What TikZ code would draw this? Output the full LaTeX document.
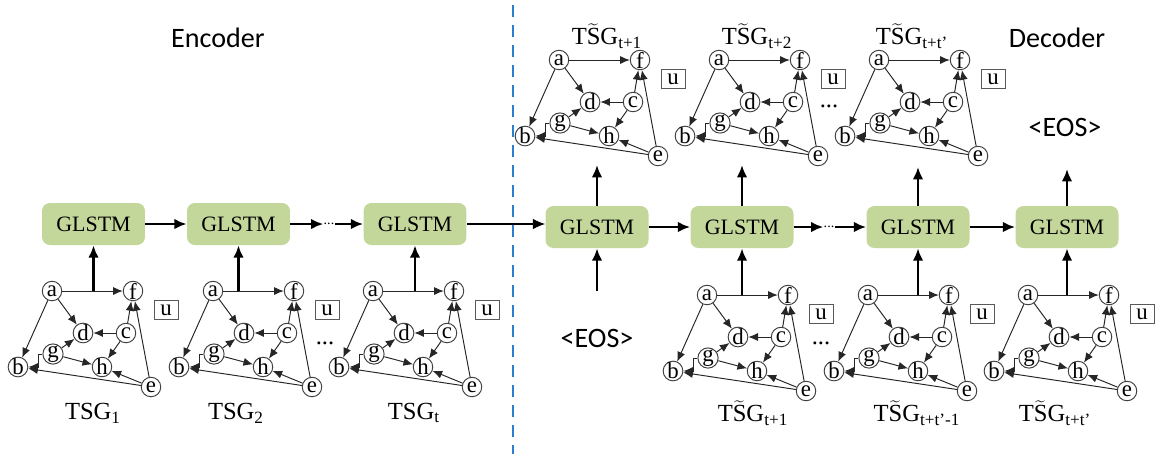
\documentclass[tikz,border=0pt]{standalone}
\usepackage{fontspec}
\setmainfont{Liberation Serif}
\newfontfamily\calfont{Carlito}
\usetikzlibrary{calc,arrows.meta,positioning}
\definecolor{cellgreen}{HTML}{C4D79B}
\definecolor{splitblue}{HTML}{2A7FCF}
\tikzset{
  vtx/.style={circle, draw=black!75, fill=white, line width=0.55pt, inner sep=0pt, minimum size=0.39cm, font=\fontsize{13}{13}\selectfont},
  ubox/.style={draw=black!65, line width=0.55pt, minimum width=0.48cm, minimum height=0.38cm, inner sep=0pt, font=\fontsize{13}{13}\selectfont},
  edge/.style={-{Latex[length=5.5pt,width=4.6pt]}, draw=black!85, line width=0.55pt},
  cell/.style={rounded corners=4.5pt, fill=cellgreen, minimum width=2.06cm, minimum height=0.84cm, font=\fontsize{12.5}{14}\selectfont},
  flow/.style={-{Latex[length=7pt,width=6pt]}, line width=1.5pt},
  thinflow/.style={-{Latex[length=7pt,width=6pt]}, line width=0.6pt},
  lab/.style={font=\fontsize{14}{16}\selectfont},
  head/.style={font=\calfont\fontsize{16}{18}\selectfont},
  gdots/.style={font=\fontsize{14}{14}\selectfont, inner sep=0pt},
  cdots/.style={font=\fontsize{8}{8}\selectfont, inner sep=0pt},
  split/.style={draw=splitblue, line width=1.1pt, dash pattern=on 0.24cm off 0.16cm}
}
% one temporal snapshot graph, #1 = prefix, (#2,#3) = node a
\newcommand{\tsgraph}[3]{%
  \begin{scope}[shift={(#2,#3)}]
    \node[vtx] (#1a) at (0,0) {a};
    \node[vtx] (#1f) at (81,0) {f};
    \node[vtx] (#1d) at (31,42) {d};
    \node[vtx] (#1c) at (74,42) {c};
    \node[vtx] (#1g) at (1,63) {g};
    \node[vtx] (#1b) at (-34,76) {b};
    \node[vtx] (#1h) at (50,76) {h};
    \node[vtx] (#1e) at (99,96) {e};
    \node[ubox] (#1u) at (114,19) {u};
  \end{scope}
  \draw[edge] (#1a) -- (#1f);
  \draw[edge] (#1a) -- (#1d);
  \draw[edge] (#1a) -- (#1b);
  \draw[edge] (#1c) -- (#1d);
  \draw[edge] (#1c) -- (#1f);
  \draw[edge] (#1c) -- (#1h);
  \draw[edge] (#1g) -- (#1d);
  \draw[edge] (#1g) -- (#1h);
  \draw[edge] (#1g.west) -- ++(-4,0) |- (#1b.east);
  \draw[edge] (#1e) -- (#1b);
  \draw[edge] (#1e) -- (#1h);
  \draw[edge] (#1e) -- (#1f);
}

\begin{document}
\begin{tikzpicture}[x=0.02cm, y=-0.02cm]
  \useasboundingbox (0,0) rectangle (1155,454);

  % encoder / decoder split
  \coordinate (splittop) at (513,5);
  \coordinate (splitbot) at (513,454);
  \draw[split] (splittop) -- (splitbot);

  \node[head] (enchead) at (218,38) {Encoder};
  \node[head] (dechead) at (1057,38) {Decoder};

  % GLSTM cells
  \node[cell] (enc1) at (93.5,224) {GLSTM};
  \node[cell] (enc2) at (238.5,224) {GLSTM};
  \node[cell] (enc3) at (415,224) {GLSTM};
  \node[cell] (dec1) at (597,227) {GLSTM};
  \node[cell] (dec2) at (742,227) {GLSTM};
  \node[cell] (dec3) at (918,227) {GLSTM};
  \node[cell] (dec4) at (1067,227) {GLSTM};

  \node[cdots] (cd1) at (329,224) {...};
  \node[cdots] (cd2) at (829,227) {...};

  \draw[flow] (enc1) -- (enc2);
  \draw[flow] (enc2) -- (cd1.west);
  \draw[flow] (cd1.east) -- (enc3);
  \draw[thinflow] (enc3.east) -- (enc3.east -| dec1.west);
  \draw[flow] (dec1) -- (dec2);
  \draw[flow] (dec2) -- (cd2.west);
  \draw[flow] (cd2.east) -- (dec3);
  \draw[flow] (dec3) -- (dec4);

  % input graphs
  \tsgraph{s1-}{52}{291}
  \tsgraph{s2-}{213}{291}
  \tsgraph{s3-}{373}{291}
  \tsgraph{i2-}{707}{295}
  \tsgraph{i3-}{868}{295}
  \tsgraph{i4-}{1028}{295}
  \node[gdots] (gd1) at (325,343) {...};
  \node[gdots] (gd2) at (821,343) {...};

  \node[lab] (l1) at (93,413) {TSG\textsubscript{1}};
  \node[lab] (l2) at (236,413) {TSG\textsubscript{2}};
  \node[lab] (l3) at (414,413) {TSG\textsubscript{t}};
  \node[lab] (l4) at (753,413) {T$\widetilde{\hbox{S}}$G\textsubscript{t+1}};
  \node[lab] (l5) at (917,413) {T$\widetilde{\hbox{S}}$G\textsubscript{t+t\textquoteright-1}};
  \node[lab] (l6) at (1055,413) {T$\widetilde{\hbox{S}}$G\textsubscript{t+t\textquoteright}};

  \node[head] (eosin) at (597,338) {<EOS>};
  \coordinate (eosup) at (597,291);

  \draw[flow] (s1-a -| enc1) -- (enc1);
  \draw[flow] (s2-a -| enc2) -- (enc2);
  \draw[flow] (s3-a -| enc3) -- (enc3);
  \draw[flow] (eosup) -- (dec1);
  \draw[flow] (i2-a -| dec2) -- (dec2);
  \draw[flow] (i3-a -| dec3) -- (dec3);
  \draw[flow] (i4-a -| dec4) -- (dec4);

  % predicted graphs
  \tsgraph{o1-}{559}{60}
  \tsgraph{o2-}{719}{60}
  \tsgraph{o3-}{879}{60}
  \node[gdots] (gd3) at (829,106) {...};

  \node[lab] (p1) at (607,36) {T$\widetilde{\hbox{S}}$G\textsubscript{t+1}};
  \node[lab] (p2) at (757,36) {T$\widetilde{\hbox{S}}$G\textsubscript{t+2}};
  \node[lab] (p3) at (912,36) {T$\widetilde{\hbox{S}}$G\textsubscript{t+t\textquoteright}};
  \node[head] (eosout) at (1065,127) {<EOS>};

  \coordinate (out1) at (597,165);
  \coordinate (out2) at (742,165);
  \coordinate (out3) at (918,167);
  \coordinate (out4) at (1067,169);
  \draw[flow] (dec1) -- (out1);
  \draw[flow] (dec2) -- (out2);
  \draw[flow] (dec3) -- (out3);
  \draw[flow] (dec4) -- (out4);
\end{tikzpicture}
\end{document}
